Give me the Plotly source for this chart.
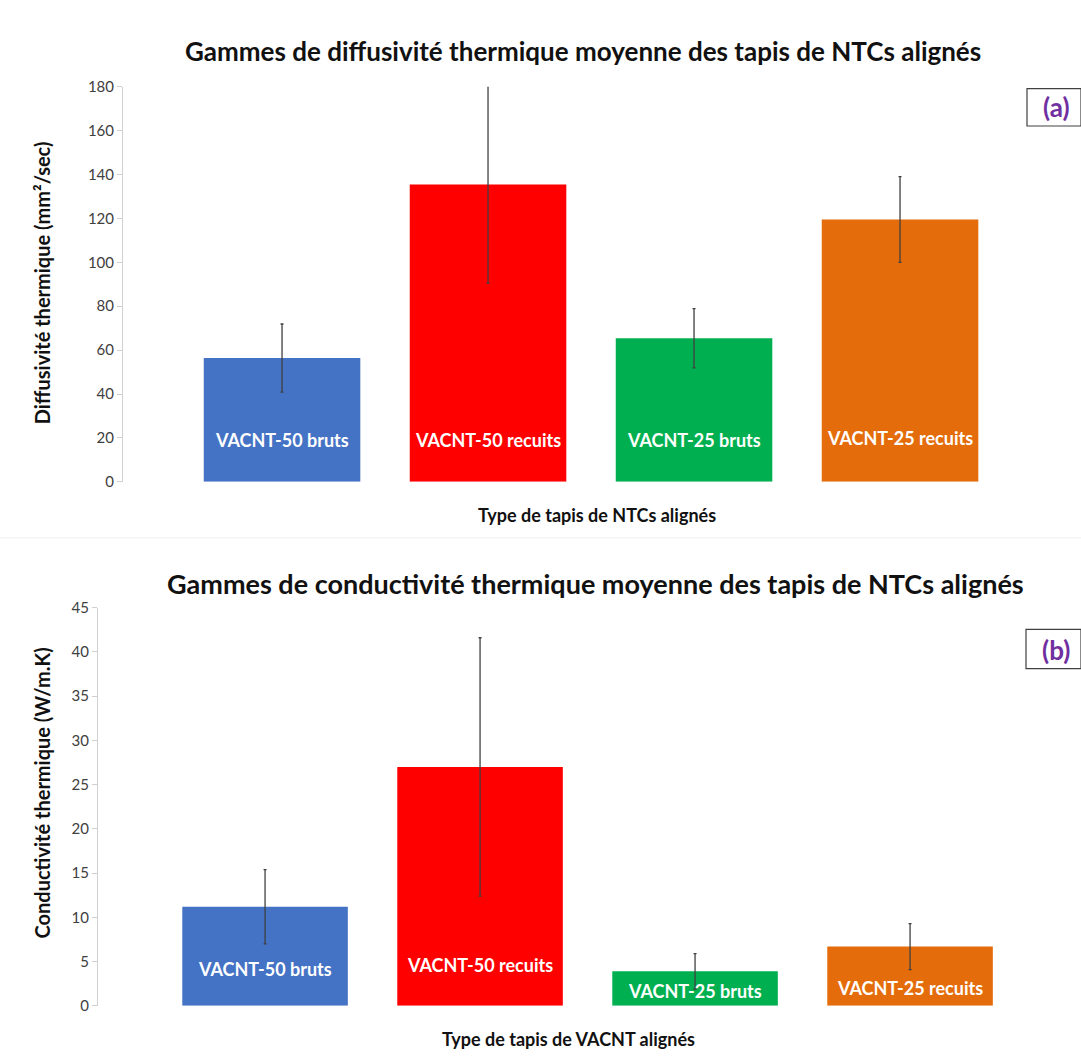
import plotly.graph_objects as go

# ---- data ----
categories = ["VACNT-50 bruts", "VACNT-50 recuits", "VACNT-25 bruts", "VACNT-25 recuits"]
diffusivity = [56.4, 135.5, 65.4, 119.5]
diffusivity_err = [15.5, 45.0, 13.5, 19.5]
conductivity = [11.2, 27.0, 3.9, 6.7]
conductivity_err = [4.2, 14.6, 2.0, 2.6]
yticks_a = [0, 20, 40, 60, 80, 100, 120, 140, 160, 180]
yticks_b = [0, 5, 10, 15, 20, 25, 30, 35, 40, 45]

# ---- style/layout constants ----
colors = ["#4472C4", "#FF0000", "#00B050", "#E46C0A"]
label_y_a = [19, 19, 19, 20]
label_y_b = [4.2, 4.6, 1.7, 2.0]
W, H = 1081, 1061
FONT = "Lato"
idx = list(range(len(categories)))

def px(x):
    return x / W

def py(y):
    return 1 - y / H

fig = go.Figure()

fig.add_trace(go.Bar(
    x=idx, y=diffusivity, width=0.76, marker=dict(color=colors, line=dict(width=0)),
    error_y=dict(type="data", array=diffusivity_err, color="#404040", thickness=1.3, width=1.5),
    xaxis="x", yaxis="y", showlegend=False, hoverinfo="y"))

fig.add_trace(go.Bar(
    x=idx, y=conductivity, width=0.77, marker=dict(color=colors, line=dict(width=0)),
    error_y=dict(type="data", array=conductivity_err, color="#404040", thickness=1.3, width=1.5),
    xaxis="x2", yaxis="y2", showlegend=False, hoverinfo="y"))

annotations = []
for i, c in enumerate(categories):
    annotations.append(dict(x=i, y=label_y_a[i], xref="x", yref="y", text="<b>%s</b>" % c,
                            showarrow=False, font=dict(family=FONT, size=18, color="white")))
    annotations.append(dict(x=i, y=label_y_b[i], xref="x2", yref="y2", text="<b>%s</b>" % c,
                            showarrow=False, font=dict(family=FONT, size=18, color="white")))

def note(x, y, text, size, color="#111111", angle=0):
    return dict(x=px(x), y=py(y), xref="paper", yref="paper", showarrow=False,
                xanchor="center", yanchor="middle", textangle=angle, text=text,
                font=dict(family=FONT, size=size, color=color))

annotations += [
    note(583, 42, "<b>Gammes de diffusivité thermique moyenne des tapis de NTCs alignés</b>", 26),
    note(595, 583, "<b>Gammes de conductivité thermique moyenne des tapis de NTCs alignés</b>", 27),
    note(597, 514, "<b>Type de tapis de NTCs alignés</b>", 18),
    note(568, 1047, "<b>Type de tapis de VACNT alignés</b>", 18),
    note(42, 278, "<b>Diffusivité thermique (mm²/sec)</b>", 20, angle=-90),
    note(42, 797, "<b>Conductivité thermique (W/m.K)</b>", 20, angle=-90),
    note(1056, 99, "<b>(a)</b>", 26, color="#7030A0"),
    note(1056, 651, "<b>(b)</b>", 26, color="#7030A0"),
]

shapes = [
    dict(type="rect", xref="paper", yref="paper", x0=px(1027), x1=px(1081), y0=py(118), y1=py(80),
         line=dict(color="#404040", width=1.2), fillcolor="rgba(0,0,0,0)"),
    dict(type="rect", xref="paper", yref="paper", x0=px(1026), x1=px(1081), y0=py(670), y1=py(630),
         line=dict(color="#404040", width=1.2), fillcolor="rgba(0,0,0,0)"),
    dict(type="line", xref="paper", yref="paper", x0=0, x1=1, y0=py(537), y1=py(537),
         line=dict(color="#EEEEEE", width=1)),
]

tickfont = dict(family=FONT, size=15, color="#404040")

fig.update_layout(
    width=W, height=H, margin=dict(l=0, r=0, t=0, b=0),
    paper_bgcolor="white", plot_bgcolor="white",
    annotations=annotations, shapes=shapes, bargap=0.2,
    xaxis=dict(domain=[px(123), 1], range=[-0.772, -0.772 + (W - 123) / 206],
               showticklabels=False, showgrid=False, zeroline=False, showline=False, ticks=""),
    yaxis=dict(domain=[py(480), py(78)], range=[0, 180], tickvals=yticks_a, tickfont=tickfont,
               showgrid=False, zeroline=False, showline=True, linecolor="#D0D0D0", linewidth=1,
               ticks="outside", ticklen=5, tickcolor="#D0D0D0"),
    xaxis2=dict(domain=[px(98), 1], range=[-0.777, -0.777 + (W - 98) / 215],
                showticklabels=False, showgrid=False, zeroline=False, showline=False, ticks="",
                anchor="y2"),
    yaxis2=dict(domain=[py(1013), py(608)], range=[0, 45], tickvals=yticks_b, tickfont=tickfont,
                showgrid=False, zeroline=False, showline=True, linecolor="#D0D0D0", linewidth=1,
                ticks="outside", ticklen=5, tickcolor="#D0D0D0", anchor="x2"),
)

fig.write_html("out.html", config={"displayModeBar": False},
               post_script="document.body.style.margin='0px';")
